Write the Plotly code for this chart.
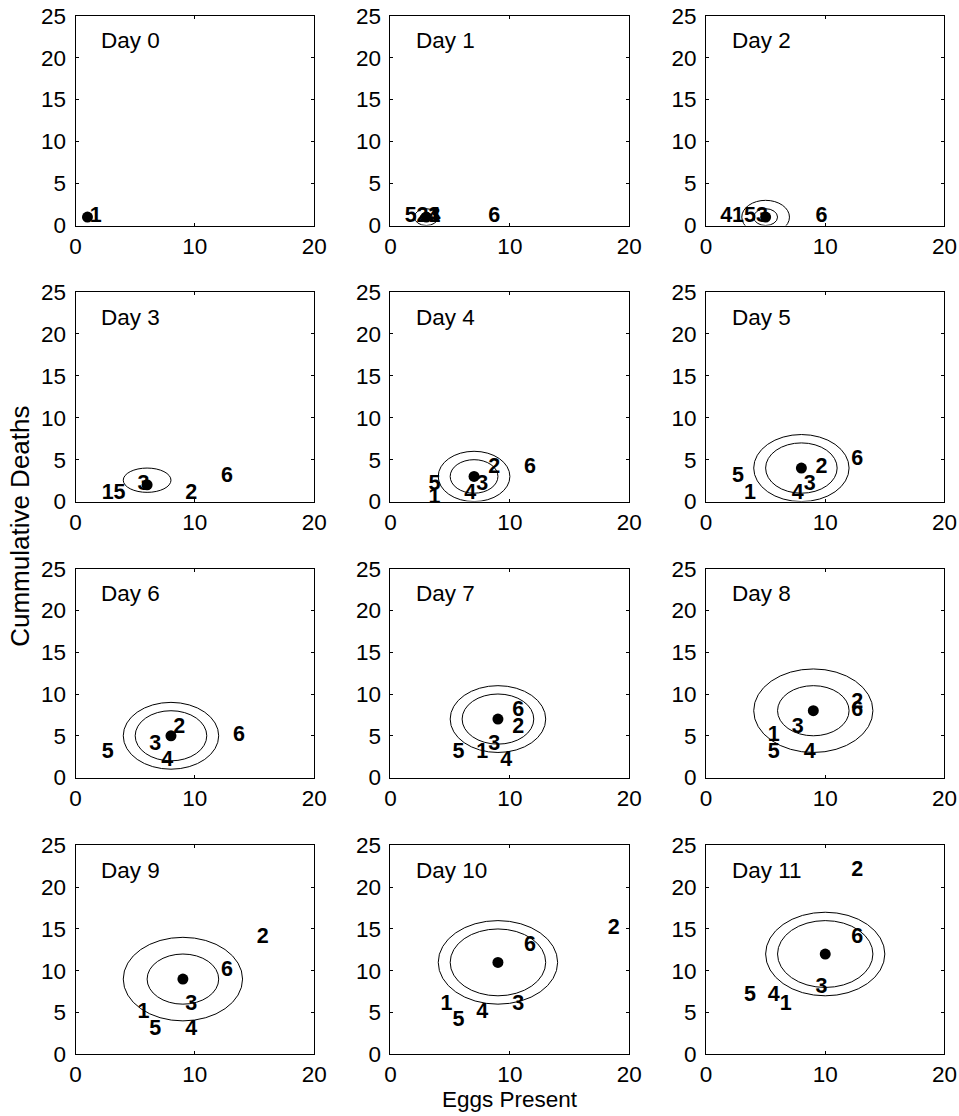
import plotly.graph_objects as go

# ---- data -------------------------------------------------------------
days = list(range(12))
day_labels = [f"Day {d}" for d in days]

# model estimate (filled dot) per day
mean_x = [1, 3, 5, 6, 7, 8, 8, 9, 9, 9, 9, 10]
mean_y = [1, 1, 1, 2, 3, 4, 5, 7, 8, 9, 11, 12]

# confidence ellipses: centres and radii (None = not drawn)
ell_cx = [None, 3, 5, 6, 7, 8, 8, 9, 9, 9, 9, 10]
ell_cy = [None, 1, 1, 2.55, 3, 4, 5, 7, 8, 9, 11, 12]
inner_r = [None, 0.5, 1, None, 2, 3, 3, 3, 3, 3, 4, 4]
outer_rx = [None, 1, 2, 2, 3, 4, 4, 4, 5, 5, 5, 5]
outer_ry = [None, 1, 2, 1.45, 3, 4, 4, 4, 5, 5, 5, 5]

# individual replicates 1..6 : eggs present (x) and cumulative deaths (y)
rep_names = ["1", "2", "3", "4", "5", "6"]
rep_x = [
    [1, 3, 2, 2, 3, 3, None, 7, 5, 5, 4, 6],
    [None, 2, None, 9, 8, 9, 8, 10, 12, 15, 18, 12],
    [None, 3, 4, 5, 7, 8, 6, 8, 7, 9, 10, 9],
    [None, 3, 1, None, 6, 7, 7, 9, 8, 9, 7, 5],
    [None, 1, 3, 3, 3, 2, 2, 5, 5, 6, 5, 3],
    [None, 8, 9, 12, 11, 12, 13, 10, 12, 12, 11, 12],
]
rep_y = [
    [1, 1, 1, 1, 0.5, 1, None, 3, 5, 5, 6, 6],
    [None, 1, None, 1, 4, 4, 6, 6, 9, 14, 15, 22],
    [None, 1, 1, 2, 2, 2, 4, 4, 6, 6, 6, 8],
    [None, 1, 1, None, 1, 1, 2, 2, 3, 3, 5, 7],
    [None, 1, 1, 1, 2, 3, 3, 3, 3, 3, 4, 7],
    [None, 1, 1, 3, 4, 5, 5, 8, 8, 10, 13, 14],
]

x_ticks = [0, 10, 20]
y_ticks = [0, 5, 10, 15, 20, 25]

# ---- layout geometry ----------------------------------------------------
# target positions are given in screen pixels; the page shows the figure
# offset by (OX, OY) and scaled by S
W, H = 972, 1124
OX, OY, S = 7.0, 12.0, 0.98
col_px = [(76.5, 315), (391.3, 630), (706.7, 945)]
row_px = [(15.7, 226), (292.7, 502.7), (570, 779.3), (847.3, 1056.7)]


def fx(px):
    return (px - OX) / S / W


def fy(py):
    return 1 - (py - OY) / S / H


FONT = "Liberation Sans, Arial, sans-serif"
TXT = 22.5
fig = go.Figure()

for d in days:
    r, c = divmod(d, 3)
    n = d + 1
    xa = "x" if n == 1 else f"x{n}"
    ya = "y" if n == 1 else f"y{n}"
    xkey = "xaxis" if n == 1 else f"xaxis{n}"
    ykey = "yaxis" if n == 1 else f"yaxis{n}"
    x0, x1 = col_px[c]
    y0, y1 = row_px[r]
    axis_common = dict(
        showline=True, linecolor="black", linewidth=1, mirror="ticks",
        ticks="inside", ticklen=3, tickcolor="black", tickwidth=1,
        showgrid=False, zeroline=False, fixedrange=True,
        tickfont=dict(family=FONT, size=TXT, color="black"),
    )
    fig.layout[xkey] = dict(
        domain=[fx(x0), fx(x1)], range=[0, 20], tickvals=x_ticks,
        anchor=ya, ticklabelstandoff=0, **axis_common)
    fig.layout[ykey] = dict(
        domain=[fy(y1), fy(y0)], range=[0, 25], tickvals=y_ticks,
        anchor=xa, ticklabelstandoff=4, **axis_common)

    # ellipses
    if ell_cx[d] is not None:
        cx, cy = ell_cx[d], ell_cy[d]
        radii = [(outer_rx[d], outer_ry[d])]
        if inner_r[d] is not None:
            radii.append((inner_r[d], inner_r[d]))
        for rx, ry in radii:
            fig.add_shape(type="circle", xref=xa, yref=ya,
                          x0=cx - rx, x1=cx + rx, y0=cy - ry, y1=cy + ry,
                          line=dict(color="black", width=1), layer="below")

    # estimate dot
    fig.add_trace(go.Scatter(
        x=[mean_x[d]], y=[mean_y[d]], xaxis=xa, yaxis=ya, mode="markers",
        marker=dict(color="black", size=11), showlegend=False,
        hoverinfo="skip"))

    # replicate labels
    for name, xs, ys in zip(rep_names, rep_x, rep_y):
        if xs[d] is None:
            continue
        fig.add_trace(go.Scatter(
            x=[xs[d]], y=[ys[d]], xaxis=xa, yaxis=ya, mode="markers+text",
            text=[f"<b>{name}</b>"], textposition="middle right",
            marker=dict(size=2, opacity=0),
            textfont=dict(family=FONT, size=21.5, color="black"),
            showlegend=False, hoverinfo="skip", cliponaxis=False))

    # panel title
    fig.add_annotation(x=2, y=22, xref=xa, yref=ya, text=day_labels[d],
                       showarrow=False, xanchor="left", yanchor="middle",
                       font=dict(family=FONT, size=TXT, color="black"))

fig.add_annotation(x=fx(21), y=fy(528), xref="paper", yref="paper",
                   text="Cummulative Deaths", textangle=-90, showarrow=False,
                   xanchor="center", yanchor="middle",
                   font=dict(family=FONT, size=26, color="black"))
fig.add_annotation(x=fx(511), y=fy(1102), xref="paper", yref="paper",
                   text="Eggs Present", showarrow=False,
                   xanchor="center", yanchor="middle",
                   font=dict(family=FONT, size=TXT, color="black"))

fig.update_layout(width=W, height=H, margin=dict(l=0, r=0, t=0, b=0),
                  paper_bgcolor="white", plot_bgcolor="white")

fig.write_html("out.html")
